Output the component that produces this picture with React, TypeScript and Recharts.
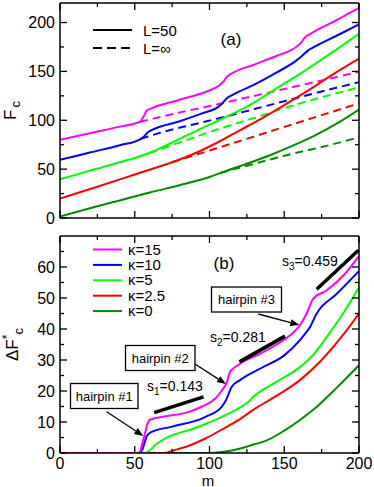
import React from "react";
import { LineChart, Line, XAxis, YAxis, ReferenceLine } from "recharts";

const FONT = '"Liberation Sans", Arial, Helvetica, sans-serif';

// ---------- tick values ----------
const M_TICKS = [0, 25, 50, 75, 100, 125, 150, 175, 200];
const FC_TICKS = [0, 25, 50, 75, 100, 125, 150, 175, 200];
const DF_TICKS = [0, 5, 10, 15, 20, 25, 30, 35, 40, 45, 50, 55, 60, 65];

// ---------- panel (a): F_c vs m, L = 50 (solid) ----------
type P = [number, number];
const fcK15L50: P[] = [[0, 80], [20, 86.8], [40, 93.5], [53.5, 98.5], [56, 104], [58, 110], [60, 111.5], [80, 121], [100, 130.5], [106, 135], [109, 139], [112, 145], [115, 148], [130, 157], [145, 166], [157, 174], [161, 179], [164, 185], [168, 189], [185, 202.5], [200, 215]];
const fcK10L50: P[] = [[0, 59.5], [20, 67], [40, 74.5], [53.5, 80.5], [56, 83], [59, 88], [62, 90.5], [80, 99], [95, 107], [106, 114], [109, 118], [112, 123], [116, 126.5], [130, 136.5], [145, 149], [158, 161], [162, 166], [166, 171.5], [170, 175], [185, 186.5], [200, 198]];
const fcK5L50: P[] = [[0, 39.5], [20, 48.5], [40, 57], [58, 65.5], [65, 70], [80, 81], [95, 92], [105, 99], [116, 107], [125, 114], [138, 126], [150, 137.5], [160, 147], [170, 157], [185, 172.5], [200, 188.5]];
const fcK25L50: P[] = [[0, 20], [25, 32], [50, 44.5], [75, 57], [90, 66], [105, 77], [120, 89.5], [135, 102], [150, 115.5], [165, 129.5], [180, 144.5], [200, 163]];
const fcK0L50: P[] = [[0, 1.5], [20, 10], [40, 18], [60, 26], [80, 33.5], [100, 42], [110, 47.5], [125, 55.5], [140, 64], [155, 73.5], [170, 84], [185, 96.5], [200, 111]];

// ---------- panel (a): L = infinity (dashed) ----------
const fcK15Inf: P[] = [[53.5, 98.5], [80, 108], [100, 114.5], [120, 121.5], [140, 128.5], [160, 135.5], [180, 142.5], [200, 149.6]];
const fcK10Inf: P[] = [[54, 81], [70, 88.5], [90, 96], [110, 103.5], [130, 111.5], [150, 119.5], [170, 127.5], [200, 139]];
const fcK5Inf: P[] = [[60, 66.5], [87, 81], [105, 90.5], [130, 102.5], [160, 117], [200, 133.6]];
const fcK25Inf: P[] = [[75, 57], [100, 69], [130, 83.5], [160, 98], [200, 117.3]];
const fcK0Inf: P[] = [[107, 46], [130, 55.5], [155, 65.5], [180, 74.5], [200, 82.5]];

// ---------- panel (b): Delta F*_c vs m ----------
const dfK15: P[] = [[0, 0], [52, 0], [53.5, 0.3], [55, 3], [57, 6.5], [58.5, 9.5], [60.5, 10.8], [70, 11.8], [85.8, 13.2], [95, 15], [103.7, 17.5], [108, 20], [111.5, 22.7], [113.6, 26], [116, 27.3], [120.4, 28.8], [135, 32.3], [149.4, 36.4], [156, 38.8], [160.5, 41.2], [165, 45], [169.4, 49.8], [178.4, 52.5], [190, 57.5], [200, 63.5]];
const dfK10: P[] = [[0, 0], [53, 0], [55, 1], [57, 4], [58, 5.4], [61.3, 6.8], [75, 8.5], [97, 11.6], [108, 14.8], [111, 17], [114.8, 21.3], [120.4, 23.5], [135, 27.5], [150, 31.5], [160.5, 36.4], [164, 38.5], [167.2, 40.6], [171.7, 45], [185, 51.3], [200, 58.7]];
const dfK5: P[] = [[0, 0], [57, 0], [60, 0.8], [63.5, 2.5], [70, 4.6], [90, 8], [108, 11.6], [118, 14], [126, 16.5], [130.5, 18.6], [145, 23], [160.5, 27.7], [170, 32], [180, 38.5], [190, 45.5], [200, 53.5]];
const dfK25: P[] = [[0, 0], [70, 0], [76.6, 0.9], [87, 2.5], [97, 4.6], [108, 7.5], [119, 10.5], [130.5, 14.3], [145, 18.5], [160.5, 23.5], [175, 30], [190, 38.5], [200, 45]];
const dfK0: P[] = [[0, 0], [100, 0], [115, 0.8], [130, 2.8], [138, 4], [150, 7.2], [160, 10.5], [172, 15], [185, 21], [200, 28.3]];

// slope guide segments [m, value]
const slope1: P[] = [[63, 13.0], [96, 18.1]];
const slope2: P[] = [[120, 29.4], [150.5, 37.7]];
const slope3: P[] = [[171.7, 52.8], [199.6, 65.4]];

const KAPPA_LABELS = ["κ=15", "κ=10", "κ=5", "κ=2.5", "κ=0"];
const COLORS = ["#ff00ff", "#0000ff", "#00ff00", "#ff0000", "#008b00"];

const rows = (a: P[]) => a.map(([m, v]) => ({ m, v }));

const L50 = [fcK15L50, fcK10L50, fcK5L50, fcK25L50, fcK0L50];
const LINF = [fcK15Inf, fcK10Inf, fcK5Inf, fcK25Inf, fcK0Inf];
const DF = [dfK15, dfK10, dfK5, dfK25, dfK0];

function makeTick(side: string, step: number, showLabel: boolean) {
  return (props: any) => {
    const { x, y, payload } = props;
    const v = payload.value;
    const major = Math.abs(v % step) < 1e-9;
    const len = major ? 7 : 4;
    let line: any = null;
    let label: any = null;
    if (side === "bottom") {
      line = <line x1={x} y1={y} x2={x} y2={y - len} />;
      if (showLabel && major)
        label = <text x={x} y={y + 16} textAnchor="middle">{v}</text>;
    } else if (side === "top") {
      line = <line x1={x} y1={y} x2={x} y2={y + len} />;
    } else if (side === "left") {
      line = <line x1={x} y1={y} x2={x + len} y2={y} />;
      if (showLabel && major)
        label = <text x={x - 5} y={y + 5.7} textAnchor="end">{v}</text>;
    } else {
      line = <line x1={x} y1={y} x2={x - len} y2={y} />;
    }
    return (
      <g stroke="none">
        <g stroke="#000" strokeWidth={1.3}>{line}</g>
        {label && (
          <g fill="#000" fontSize={16} fontFamily={FONT}>{label}</g>
        )}
      </g>
    );
  };
}

const axisLine = { stroke: "#000", strokeWidth: 1.5 };

function arrow(x1: number, y1: number, x2: number, y2: number) {
  const dx = x2 - x1, dy = y2 - y1;
  const len = Math.hypot(dx, dy);
  const ux = dx / len, uy = dy / len;
  const L = 9, Wd = 3.5;
  const bx = x2 - ux * L, by = y2 - uy * L;
  const pts = `${x2},${y2} ${bx - uy * Wd},${by + ux * Wd} ${bx + uy * Wd},${by - ux * Wd}`;
  return (
    <g>
      <line x1={x1} y1={y1} x2={bx} y2={by} stroke="#000" strokeWidth={1.3} />
      <polygon points={pts} fill="#000" />
    </g>
  );
}

export default function App() {
  return (
    <div style={{ position: "absolute", left: 0, top: 0, width: 374, height: 487, background: "#fff" }}>
      {/* Panel (a) */}
      <div style={{ position: "absolute", left: 0, top: 0 }}>
        <LineChart width={374} height={229} margin={{ top: 2, right: 14, bottom: 10, left: 0 }}>
          <XAxis xAxisId="b" dataKey="m" type="number" domain={[0, 200]} ticks={M_TICKS} interval={0}
            orientation="bottom" height={1} tickSize={0} tickMargin={0} tickLine={false}
            axisLine={axisLine} tick={makeTick("bottom", 50, false)} allowDataOverflow />
          <XAxis xAxisId="t" dataKey="m" type="number" domain={[0, 200]} ticks={M_TICKS} interval={0}
            orientation="top" height={1} tickSize={0} tickMargin={0} tickLine={false}
            axisLine={axisLine} tick={makeTick("top", 50, false)} allowDataOverflow />
          <YAxis yAxisId="l" type="number" domain={[0, 220]} ticks={FC_TICKS} interval={0}
            orientation="left" width={60} tickSize={0} tickMargin={0} tickLine={false}
            axisLine={axisLine} tick={makeTick("left", 50, true)} allowDataOverflow />
          <YAxis yAxisId="r" type="number" domain={[0, 220]} ticks={FC_TICKS} interval={0}
            orientation="right" width={1} tickSize={0} tickMargin={0} tickLine={false}
            axisLine={axisLine} tick={makeTick("right", 50, false)} allowDataOverflow />
          {LINF.map((d, i) => (
            <Line key={"inf" + i} xAxisId="b" yAxisId="l" data={rows(d)} dataKey="v" type="monotone"
              stroke={COLORS[i]} strokeWidth={2} strokeDasharray="8 5" dot={false} isAnimationActive={false} />
          ))}
          {L50.map((d, i) => (
            <Line key={"l50" + i} xAxisId="b" yAxisId="l" data={rows(d)} dataKey="v" type="monotone"
              stroke={COLORS[i]} strokeWidth={2} dot={false} isAnimationActive={false} />
          ))}
        </LineChart>
      </div>

      {/* Panel (b) */}
      <div style={{ position: "absolute", left: 0, top: 230 }}>
        <LineChart width={374} height={257} margin={{ top: 5, right: 14, bottom: 33, left: 0 }}>
          <XAxis xAxisId="b" dataKey="m" type="number" domain={[0, 200]} ticks={M_TICKS} interval={0}
            orientation="bottom" height={1} tickSize={0} tickMargin={0} tickLine={false}
            axisLine={axisLine} tick={makeTick("bottom", 50, true)} allowDataOverflow />
          <XAxis xAxisId="t" dataKey="m" type="number" domain={[0, 200]} ticks={M_TICKS} interval={0}
            orientation="top" height={1} tickSize={0} tickMargin={0} tickLine={false}
            axisLine={axisLine} tick={makeTick("top", 50, false)} allowDataOverflow />
          <YAxis yAxisId="l" type="number" domain={[0, 70]} ticks={DF_TICKS} interval={0}
            orientation="left" width={60} tickSize={0} tickMargin={0} tickLine={false}
            axisLine={axisLine} tick={makeTick("left", 10, true)} allowDataOverflow />
          <YAxis yAxisId="r" type="number" domain={[0, 70]} ticks={DF_TICKS} interval={0}
            orientation="right" width={1} tickSize={0} tickMargin={0} tickLine={false}
            axisLine={axisLine} tick={makeTick("right", 10, false)} allowDataOverflow />
          {DF.slice().reverse().map((d, j) => {
            const i = DF.length - 1 - j;
            return (
              <Line key={"df" + i} xAxisId="b" yAxisId="l" data={rows(d)} dataKey="v" type="monotone"
                stroke={COLORS[i]} strokeWidth={2} dot={false} isAnimationActive={false} />
            );
          })}
          {[slope1, slope2, slope3].map((s, i) => (
            <ReferenceLine key={"s" + i} xAxisId="b" yAxisId="l" ifOverflow="visible"
              segment={[{ x: s[0][0], y: s[0][1] }, { x: s[1][0], y: s[1][1] }]}
              stroke="#000" strokeWidth={3.5} />
          ))}
        </LineChart>
      </div>

      {/* Text annotations */}
      <svg width={374} height={487} style={{ position: "absolute", left: 0, top: 0, pointerEvents: "none" }}
        fontFamily={FONT} fill="#000">
        {/* y-axis titles */}
        <text transform="translate(16,120) rotate(-90)" fontSize={17}>
          F<tspan dy={4} dx={2} fontSize={13}>c</tspan>
        </text>
        <text transform="translate(18,361) rotate(-90)" fontSize={17}>
          ΔF<tspan dy={-7.5} fontSize={12}>*</tspan><tspan dy={12.5} fontSize={13}>c</tspan>
        </text>
        {/* x-axis title */}
        <text x={208} y={485.5} fontSize={15} textAnchor="middle">m</text>

        {/* panel labels */}
        <text x={231} y={45} fontSize={17} textAnchor="middle">(a)</text>
        <text x={224} y={269} fontSize={17} textAnchor="middle">(b)</text>

        {/* legend (a) */}
        <line x1={93} y1={30} x2={132} y2={30} stroke="#000" strokeWidth={2} />
        <line x1={93} y1={48} x2={132} y2={48} stroke="#000" strokeWidth={2} strokeDasharray="9 5" />
        <text x={143} y={35.5} fontSize={15}>L=50</text>
        <text x={143} y={53.5} fontSize={15}>L=∞</text>

        {/* legend (b) */}
        {KAPPA_LABELS.map((lab, i) => {
          const y = 249.5 + i * 15.4;
          return (
            <g key={lab}>
              <line x1={93} y1={y} x2={122} y2={y} stroke={COLORS[i]} strokeWidth={2} />
              <text x={128} y={y + 5} fontSize={15}>{lab}</text>
            </g>
          );
        })}

        {/* slope labels */}
        <text x={147} y={391} fontSize={14}>s<tspan dy={4} fontSize={10}>1</tspan><tspan dy={-4}>=0.143</tspan></text>
        <text x={210} y={341.5} fontSize={14}>s<tspan dy={4} fontSize={10}>2</tspan><tspan dy={-4}>=0.281</tspan></text>
        <text x={282} y={266} fontSize={14}>s<tspan dy={4} fontSize={10}>3</tspan><tspan dy={-4}>=0.459</tspan></text>

        {/* hairpin boxes */}
        <rect x={70.5} y={383.5} width={67.5} height={25} fill="#fff" stroke="#000" strokeWidth={1.3} />
        <text x={104.25} y={400.5} fontSize={13} textAnchor="middle">hairpin #1</text>
        <rect x={125.5} y={345.5} width={69.5} height={25} fill="#fff" stroke="#000" strokeWidth={1.3} />
        <text x={160.25} y={362.5} fontSize={13} textAnchor="middle">hairpin #2</text>
        <rect x={211.5} y={287} width={70} height={25} fill="#fff" stroke="#000" strokeWidth={1.3} />
        <text x={246.5} y={304} fontSize={13} textAnchor="middle">hairpin #3</text>

        {/* arrows */}
        {arrow(106.7, 411.7, 143.3, 436)}
        {arrow(195, 364, 226, 384)}
        {arrow(258.3, 314, 299.3, 325)}
      </svg>
    </div>
  );
}
